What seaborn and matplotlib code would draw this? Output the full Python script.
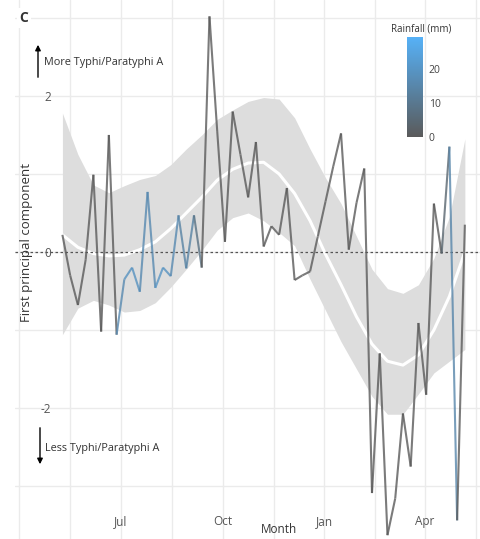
import numpy as np
import pandas as pd
import seaborn as sns
import matplotlib
matplotlib.use("Agg")
import matplotlib.pyplot as plt
import matplotlib.dates as mdates
from matplotlib.collections import LineCollection
from matplotlib.colors import LinearSegmentedColormap, Normalize
from matplotlib.cm import ScalarMappable
from matplotlib.ticker import FixedLocator

# weekly first principal component + rainfall
weeks = pd.date_range("2019-05-09", periods=53, freq="7D")
pc1 = [0.22, -0.30, -0.68, -0.10, 0.99, -1.02, 1.50, -1.06, -0.35, -0.20,
       -0.51, 0.77, -0.46, -0.20, -0.31, 0.47, -0.21, 0.47, -0.20, 3.02,
       1.55, 0.13, 1.80, 1.25, 0.70, 1.41, 0.07, 0.33, 0.22, 0.82,
       -0.36, -0.30, -0.25, 0.20, 0.65, 1.10, 1.52, 0.03, 0.63, 1.07,
       -3.09, -1.30, -3.63, -3.16, -2.07, -2.75, -0.91, -1.83, 0.62, -0.02,
       1.35, -3.44, 0.35]
rain = [0, 0, 0, 0, 0, 0, 0, 16, 19, 19,
        16, 16, 20, 19, 16, 14, 14, 8, 0, 0,
        0, 0, 0, 0, 0, 0, 0, 0, 0, 0,
        0, 0, 0, 0, 0, 0, 0, 0, 0, 0,
        0, 0, 0, 0, 0, 0, 0, 0, 0, 4,
        15, 0, 0]
rain_max = 29.4

# smooth fit and its band, read every two weeks
smooth_dates = weeks[::2]
smooth_fit = [0.22, 0.06, -0.02, -0.05, -0.04, 0.03, 0.13, 0.30, 0.50, 0.70,
              0.92, 1.06, 1.14, 1.15, 1.00, 0.75, 0.40, -0.03, -0.42, -0.83,
              -1.18, -1.40, -1.45, -1.32, -1.00, -0.57, 0.00]
smooth_upper = [1.78, 1.25, 0.86, 0.76, 0.85, 0.93, 0.98, 1.12, 1.32, 1.50,
                1.70, 1.82, 1.93, 1.98, 1.96, 1.72, 1.32, 0.95, 0.62, 0.20,
                -0.22, -0.47, -0.53, -0.42, -0.08, 0.45, 1.45]
smooth_lower = [-1.06, -0.72, -0.62, -0.68, -0.77, -0.75, -0.65, -0.45, -0.22, 0.02,
                0.28, 0.44, 0.50, 0.40, 0.25, 0.08, -0.35, -0.75, -1.15, -1.50,
                -1.85, -2.08, -2.08, -1.82, -1.55, -1.40, -1.25]

month_ticks = pd.to_datetime(["2019-07-01", "2019-10-01", "2020-01-01", "2020-04-01"])

sns.set_theme(style="whitegrid")
plt.rcParams["font.family"] = ["Open Sans", "DejaVu Sans"]
plt.rcParams["axes.unicode_minus"] = False

W, H = 481, 539
fig = plt.figure(figsize=(W / 100, H / 100), dpi=100)
ax = fig.add_axes([15 / W, 0, 1 - 15 / W, 1])

ax.fill_between(smooth_dates, smooth_lower, smooth_upper, color="#dddddd", lw=0, zorder=1)
sns.lineplot(x=smooth_dates, y=smooth_fit, color="white", lw=2.2, ax=ax, zorder=2)
ax.axhline(0, color="#555555", ls=(0, (2, 2)), lw=0.9, zorder=2)

cmap = LinearSegmentedColormap.from_list("rain", ["#5a5a5a", "#56B1F7"])
norm = Normalize(0, rain_max)
xn = mdates.date2num(weeks)
pts = np.column_stack([xn, pc1])
segs = np.stack([pts[:-1], pts[1:]], axis=1)
lc = LineCollection(segs, cmap=cmap, norm=norm, linewidth=1.5, alpha=0.8, zorder=3)
lc.set_array(np.array(rain[:-1], dtype=float))
ax.add_collection(lc)

# axes ranges
jul = mdates.date2num(pd.Timestamp("2019-07-01"))
ax.set_xlim(jul - 95.9, jul + 325.6)
ax.set_ylim(-3.679, 3.23)

maj = mdates.date2num(month_ticks)
ax.xaxis.set_major_locator(FixedLocator(maj))
ax.xaxis.set_major_formatter(mdates.DateFormatter("%b"))
step = maj[1] - maj[0]
ax.xaxis.set_minor_locator(FixedLocator(np.r_[maj[0] - step, maj[0] - step / 2,
                                              (maj[:-1] + maj[1:]) / 2, maj[-1] + step / 2]))
ax.yaxis.set_major_locator(FixedLocator([-2, 0, 2]))
ax.yaxis.set_minor_locator(FixedLocator([-3, -1, 1, 3]))

ax.grid(which="both", color="#ebebeb", lw=1.0)
for s in ax.spines.values():
    s.set_visible(False)
ax.tick_params(axis="y", which="both", length=0, pad=-26, labelsize=8.5, colors="#555555")
ax.tick_params(axis="x", which="both", length=0, pad=-17, labelsize=8.5, colors="#555555")

ax.set_ylabel("First principal component", fontsize=9.5, color="#333333")
ax.yaxis.set_label_coords((33 - 15) / (W - 15), 1 - 243 / H)
ax.set_xlabel("Month", fontsize=8.5, color="#333333", va="bottom")
ax.xaxis.set_label_coords((279 - 15) / (W - 15), 3 / H)

# panel letter and direction arrows
fig.text(24 / W, 1 - 18 / H, "C", fontsize=10, fontweight="bold", color="#333333",
         ha="center", va="center", bbox=dict(facecolor="white", edgecolor="none", pad=2))
ax.annotate("", xy=(38 / W, 1 - 42 / H), xytext=(38 / W, 1 - 80 / H),
            xycoords="figure fraction", textcoords="figure fraction",
            arrowprops=dict(arrowstyle="-|>", color="black", lw=1.0, mutation_scale=8))
fig.text(44 / W, 1 - 62 / H, "More Typhi/Paratyphi A", fontsize=7.8, color="#333333", va="center")
ax.annotate("", xy=(40 / W, 1 - 467 / H), xytext=(40 / W, 1 - 425 / H),
            xycoords="figure fraction", textcoords="figure fraction",
            arrowprops=dict(arrowstyle="-|>", color="black", lw=1.0, mutation_scale=8))
fig.text(45 / W, 1 - 448 / H, "Less Typhi/Paratyphi A", fontsize=7.8, color="#333333", va="center")

# rainfall colour bar
cax = fig.add_axes([407 / W, 1 - 137 / H, 16 / W, 100 / H])
cb = fig.colorbar(ScalarMappable(norm=norm, cmap=cmap), cax=cax)
cb.set_ticks([0, 10, 20])
cb.outline.set_visible(False)
cax.tick_params(length=0, pad=4, labelsize=7.5, colors="#444444")
fig.text(421 / W, 1 - 29 / H, "Rainfall (mm)", fontsize=7, color="#333333", ha="center", va="center")

fig.savefig("out.png", dpi=100)
